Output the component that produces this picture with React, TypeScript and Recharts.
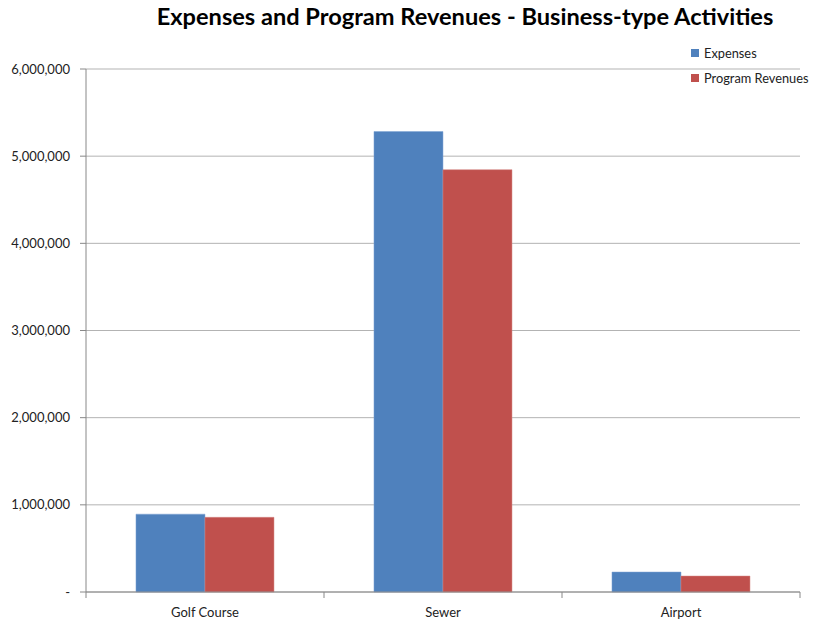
import React from 'react'
import { BarChart, Bar, XAxis, YAxis, CartesianGrid } from 'recharts'

const categories = ['Golf Course', 'Sewer', 'Airport']
const expenses = [893000, 5283000, 229000]
const programRevenues = [857000, 4845000, 183000]
const yTicks = [0, 1000000, 2000000, 3000000, 4000000, 5000000, 6000000]

const data = categories.map((name, i) => ({
    name,
    expenses: expenses[i],
    revenues: programRevenues[i],
}))

const W = 813
const H = 621
const LEFT = 86
const RIGHT = 13
const BAND = (W - LEFT - RIGHT) / categories.length
const FONT = 'Lato, "Open Sans", sans-serif'

const fmt = (v: number) => (v === 0 ? '-' : v.toLocaleString('en-US'))

function CategoryTick(props: any) {
    const { x, y, payload } = props
    const half = BAND / 2
    return (
        <g>
            <line x1={x - half} y1={y - 8} x2={x - half} y2={y - 2} stroke="#888" />
            {payload.index === categories.length - 1 && (
                <line x1={x + half} y1={y - 8} x2={x + half} y2={y - 2} stroke="#888" />
            )}
            <text x={x} y={y + 17} textAnchor="middle" fontSize={13} fill="#222" fontFamily={FONT}>
                {payload.value}
            </text>
        </g>
    )
}

const legendItems = [
    { label: 'Expenses', color: '#4f81bd' },
    { label: 'Program Revenues', color: '#c0504d' },
]

function LegendBox() {
    return (
        <div style={{ position: 'absolute', top: 40, left: 691, fontFamily: FONT, fontSize: 12.8, color: '#222' }}>
            {legendItems.map((it) => (
                <div key={it.label} style={{ display: 'flex', alignItems: 'center', height: 25, whiteSpace: 'nowrap' }}>
                    <span style={{ width: 8, height: 8, background: it.color, marginRight: 5, display: 'inline-block' }} />
                    {it.label}
                </div>
            ))}
        </div>
    )
}

export default function App() {
    return (
        <div style={{ position: 'absolute', left: 0, top: 0, width: W, height: H, background: '#fff' }}>
            <div
                style={{
                    position: 'absolute',
                    top: 2,
                    left: 115,
                    width: 700,
                    textAlign: 'center',
                    fontFamily: FONT,
                    fontWeight: 700,
                    fontSize: 23.6,
                    color: '#000',
                    whiteSpace: 'nowrap',
                }}
            >
                Expenses and Program Revenues - Business-type Activities
            </div>
            <BarChart
                width={W}
                height={H}
                data={data}
                margin={{ top: 69, right: RIGHT, bottom: 0, left: 0 }}
                barCategoryGap="21%"
                barGap={0}
            >
                <CartesianGrid vertical={false} stroke="#b3b3b3" />
                <XAxis
                    dataKey="name"
                    height={29}
                    stroke="#888"
                    tickLine={false}
                    tick={<CategoryTick />}
                    interval={0}
                />
                <YAxis
                    width={LEFT}
                    domain={[0, 6000000]}
                    ticks={yTicks}
                    tickFormatter={fmt}
                    stroke="#888"
                    tickSize={6}
                    tickMargin={10}
                    tick={{ fontSize: 13, fill: '#222', fontFamily: FONT }}
                />
                <Bar dataKey="expenses" name="Expenses" fill="#4f81bd" stroke="#7ea3d4" strokeWidth={0.5} isAnimationActive={false} />
                <Bar dataKey="revenues" name="Program Revenues" fill="#c0504d" stroke="#d58583" strokeWidth={0.5} isAnimationActive={false} />
            </BarChart>
            <LegendBox />
        </div>
    )
}
